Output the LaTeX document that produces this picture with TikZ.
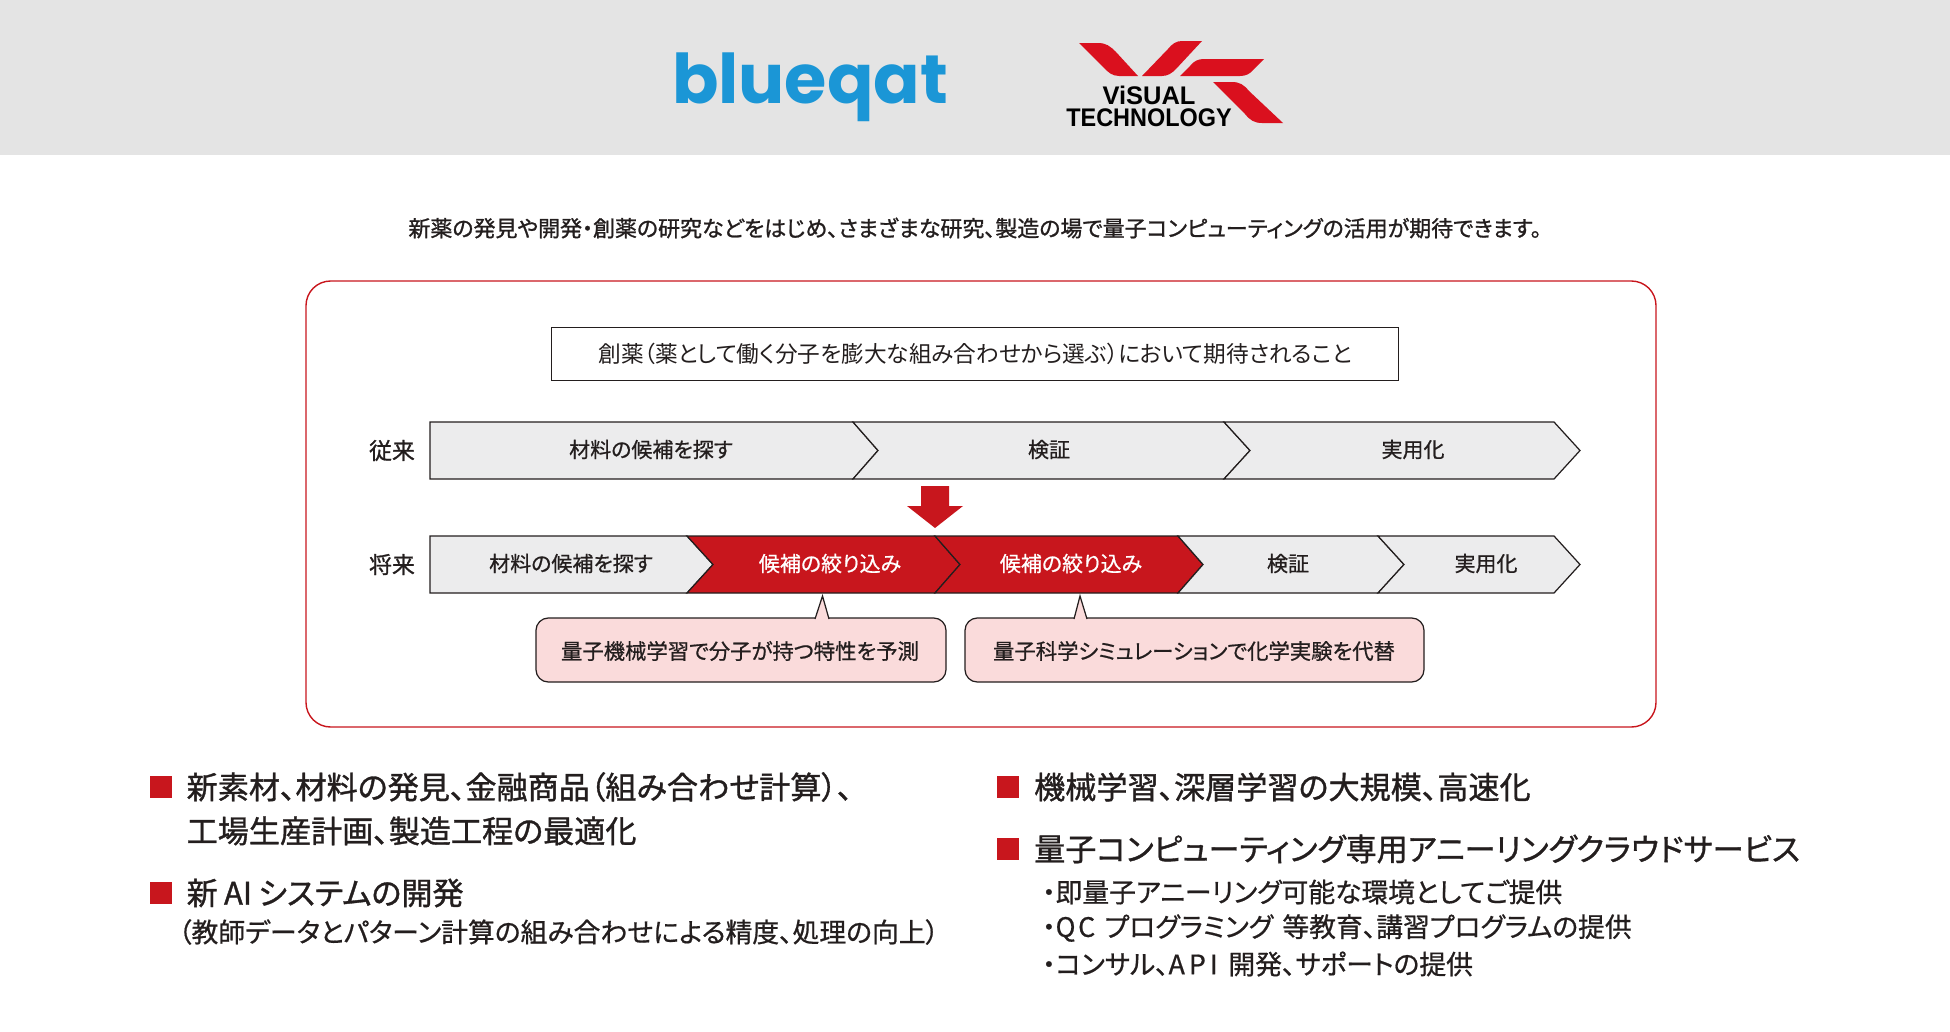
\documentclass[tikz,border=0pt]{standalone}
\usepackage{fontspec}
\usepackage{xcolor}
\setmainfont{Noto Sans CJK JP}[RawFeature=+palt]
\newfontfamily\medfont{Noto Sans CJK JP}[RawFeature=+palt,FakeBold=0.7]
\newfontfamily\leadfont{Noto Sans CJK JP}[RawFeature=+palt,FakeBold=1.1]
\newfontfamily\blueqatfont{Poppins}[BoldFont=* Bold]
\newfontfamily\vtfont{Liberation Sans}
\newfontfamily\vtnarrow{Liberation Sans}[FakeStretch=0.92]
\definecolor{vtgray}{RGB}{228,228,228}
\definecolor{vtred}{RGB}{200,22,29}
\definecolor{vtlogored}{RGB}{218,16,30}
\definecolor{vtpink}{RGB}{250,219,219}
\definecolor{vtlight}{RGB}{236,236,237}
\definecolor{vtblue}{RGB}{27,150,214}
\definecolor{vtink}{RGB}{35,30,30}
\usetikzlibrary{positioning}
\tikzset{
  stagebox/.style={draw=vtink, line width=0.7pt, fill=vtlight},
  stagered/.style={draw=vtink, line width=0.7pt, fill=vtred},
  stagetext/.style={font=\medfont\fontsize{11.95}{11.95}\selectfont, text=vtink},
  stagewhite/.style={font=\medfont\fontsize{11.95}{11.95}\selectfont, text=white},
  tagbox/.style={draw=vtink, line width=0.7pt, fill=vtpink, rounded corners=7pt},
  tagtip/.style={draw=vtink, line width=0.7pt, fill=vtpink},
  tagtext/.style={font=\medfont\fontsize{12.15}{12.15}\selectfont, text=vtink},
  rowlabel/.style={font=\leadfont\fontsize{13}{13}\selectfont, text=vtink},
  listhead/.style={font=\leadfont\fontsize{17.7}{17.7}\selectfont, text=vtink, anchor=west},
  listsub/.style={font=\medfont\fontsize{15.25}{15.25}\selectfont, text=vtink, anchor=west},
  bullet/.style={fill=vtred, draw=none, minimum size=12pt, inner sep=0pt},
}
\begin{document}
\begin{tikzpicture}[x=0.02cm, y=-0.02cm]
  \useasboundingbox (0,0) rectangle (1950,1031);
  % Header band
  \fill[vtgray] (0,0) rectangle (1950,155);
  \node[font=\blueqatfont\bfseries\fontsize{39}{39}\selectfont, text=vtblue] (blueqat) at (810,87) {blueqat};
  % Logo blades
  \fill[vtlogored] (1079,43) -- (1098,43) .. controls (1106,43) and (1110,46) .. (1116,52) -- (1138,76) -- (1119,76) .. controls (1112,76) and (1108,72) .. (1104,68) -- cycle;
  \fill[vtlogored] (1202,41) -- (1182,41) .. controls (1176,41) and (1172,44) .. (1168,49) -- (1142,76) -- (1162,76) .. controls (1168,76) and (1172,73) .. (1176,69) -- cycle;
  \fill[vtlogored] (1264,59) -- (1204,59) .. controls (1198,59) and (1194,61) .. (1190,66) -- (1180,76) -- (1240,76) .. controls (1246,76) and (1250,74) .. (1254,69) -- cycle;
  \fill[vtlogored] (1213,82) -- (1232,82) .. controls (1240,82) and (1244,85) .. (1249,91) -- (1283,123) -- (1262,123) .. controls (1254,123) and (1250,120) .. (1245,114) -- cycle;
  \node[font=\vtfont\bfseries\fontsize{14.5}{14.5}\selectfont, text=black] (visual) at (1149,95) {ViSUAL};
  \node[font=\vtnarrow\bfseries\fontsize{14.5}{14.5}\selectfont, text=black] (technology) at (1149,118) {TECHNOLOGY};

  % Lead sentence
  \node[font=\leadfont\fontsize{12.5}{12.5}\selectfont, text=vtink] (lead) at (975,228) {新薬の発見や開発・創薬の研究などをはじめ、さまざまな研究、製造の場で量子コンピューティングの活用が期待できます。};

  % Panel border and title
  \draw[vtred, line width=0.8pt, rounded corners=14pt] (306,281) rectangle (1656,727);
  \node[draw=vtink, line width=0.5pt, minimum width=847*0.02cm, minimum height=53*0.02cm, font=\fontsize{12.9}{12.9}\selectfont, text=vtink] (title) at (975,353.5) {\raisebox{-0.6pt}{創薬（薬として働く分子を膨大な組み合わせから選ぶ）において期待されること}};

  % --- Row 1 ---
  \node[rowlabel] (rowold) at (392,450.5) {従来};
  \draw[stagebox] (430,422) -- (853,422) -- (878,450.5) -- (853,479) -- (430,479) -- cycle;
  \draw[stagebox] (853,422) -- (1224,422) -- (1250,450.5) -- (1224,479) -- (853,479) -- (878,450.5) -- cycle;
  \draw[stagebox] (1224,422) -- (1554,422) -- (1580,450.5) -- (1554,479) -- (1224,479) -- (1250,450.5) -- cycle;
  \node[stagetext] (oldsearch) at (651,449.5) {材料の候補を探す};
  \node[stagetext] (oldcheck) at (1049,449.5) {検証};
  \node[stagetext] (olduse) at (1413,449.5) {実用化};

  % Down arrow
  \fill[vtred] (921,486) -- (949,486) -- (949,506) -- (963,506) -- (935,528) -- (907,506) -- (921,506) -- cycle;

  % --- Row 2 ---
  \node[rowlabel] (rownew) at (392,564.5) {将来};
  \draw[stagebox] (430,536) -- (687,536) -- (713,564.5) -- (687,593) -- (430,593) -- cycle;
  \draw[stagered] (687,536) -- (935,536) -- (960,564.5) -- (935,593) -- (687,593) -- (713,564.5) -- cycle;
  \draw[stagered] (935,536) -- (1178,536) -- (1203,564.5) -- (1178,593) -- (935,593) -- (960,564.5) -- cycle;
  \draw[stagebox] (1178,536) -- (1378,536) -- (1404,564.5) -- (1378,593) -- (1178,593) -- (1203,564.5) -- cycle;
  \draw[stagebox] (1378,536) -- (1554,536) -- (1580,564.5) -- (1554,593) -- (1378,593) -- (1404,564.5) -- cycle;
  \node[stagetext] (newsearch) at (571,563.5) {材料の候補を探す};
  \node[stagewhite] (narrowa) at (830,563.5) {候補の絞り込み};
  \node[stagewhite] (narrowb) at (1071,563.5) {候補の絞り込み};
  \node[stagetext] (newcheck) at (1288,563.5) {検証};
  \node[stagetext] (newuse) at (1486,563.5) {実用化};

  % Callouts
  \draw[tagbox] (536,618) rectangle (946,682);
  \draw[tagtip] (815,619) -- (822.5,596) -- (829,619);
  \draw[tagbox] (965,618) rectangle (1424,682);
  \draw[tagtip] (1074,619) -- (1080,596) -- (1087,619);
  \node[tagtext] (tagml) at (740,651) {量子機械学習で分子が持つ特性を予測};
  \node[tagtext] (tagsim) at (1194,651) {量子科学シミュレーションで化学実験を代替};

  % --- Left list ---
  \node[bullet] (bulleta) at (161,787) {};
  \node[listhead] (heada) at (180.5,787) {新素材、材料の発見、金融商品（組み合わせ計算）、};
  \node[listhead] (headb) at (180.5,831) {工場生産計画、製造工程の最適化};
  \node[bullet] (bulletb) at (161,893) {};
  \node[listhead] (headc) at (180.5,893) {新\hspace{0.2em}AI\hspace{0.2em}システムの開発};
  \node[listsub] (subc) at (172,932) {（教師データとパターン計算の組み合わせによる精度、処理の向上）};

  % --- Right list ---
  \node[bullet] (bulletc) at (1008,787) {};
  \node[listhead] (headd) at (1028,787) {機械学習、深層学習の大規模、高速化};
  \node[bullet] (bulletd) at (1008,849) {};
  \node[listhead] (heade) at (1028,849) {量子コンピューティング専用アニーリングクラウドサービス};
  \node[listsub] (suba) at (1036,892) {・即量子アニーリング可能な環境としてご提供};
  \node[listsub] (subb) at (1036,928) {・Q\hspace{0.1em}C\hspace{0.35em}プログラミング\hspace{0.35em}等教育、講習プログラムの提供};
  \node[listsub] (subd) at (1036,964) {・コンサル、A\hspace{0.15em}P\hspace{0.15em}I\hspace{0.4em}開発、サポートの提供};
\end{tikzpicture}
\end{document}
